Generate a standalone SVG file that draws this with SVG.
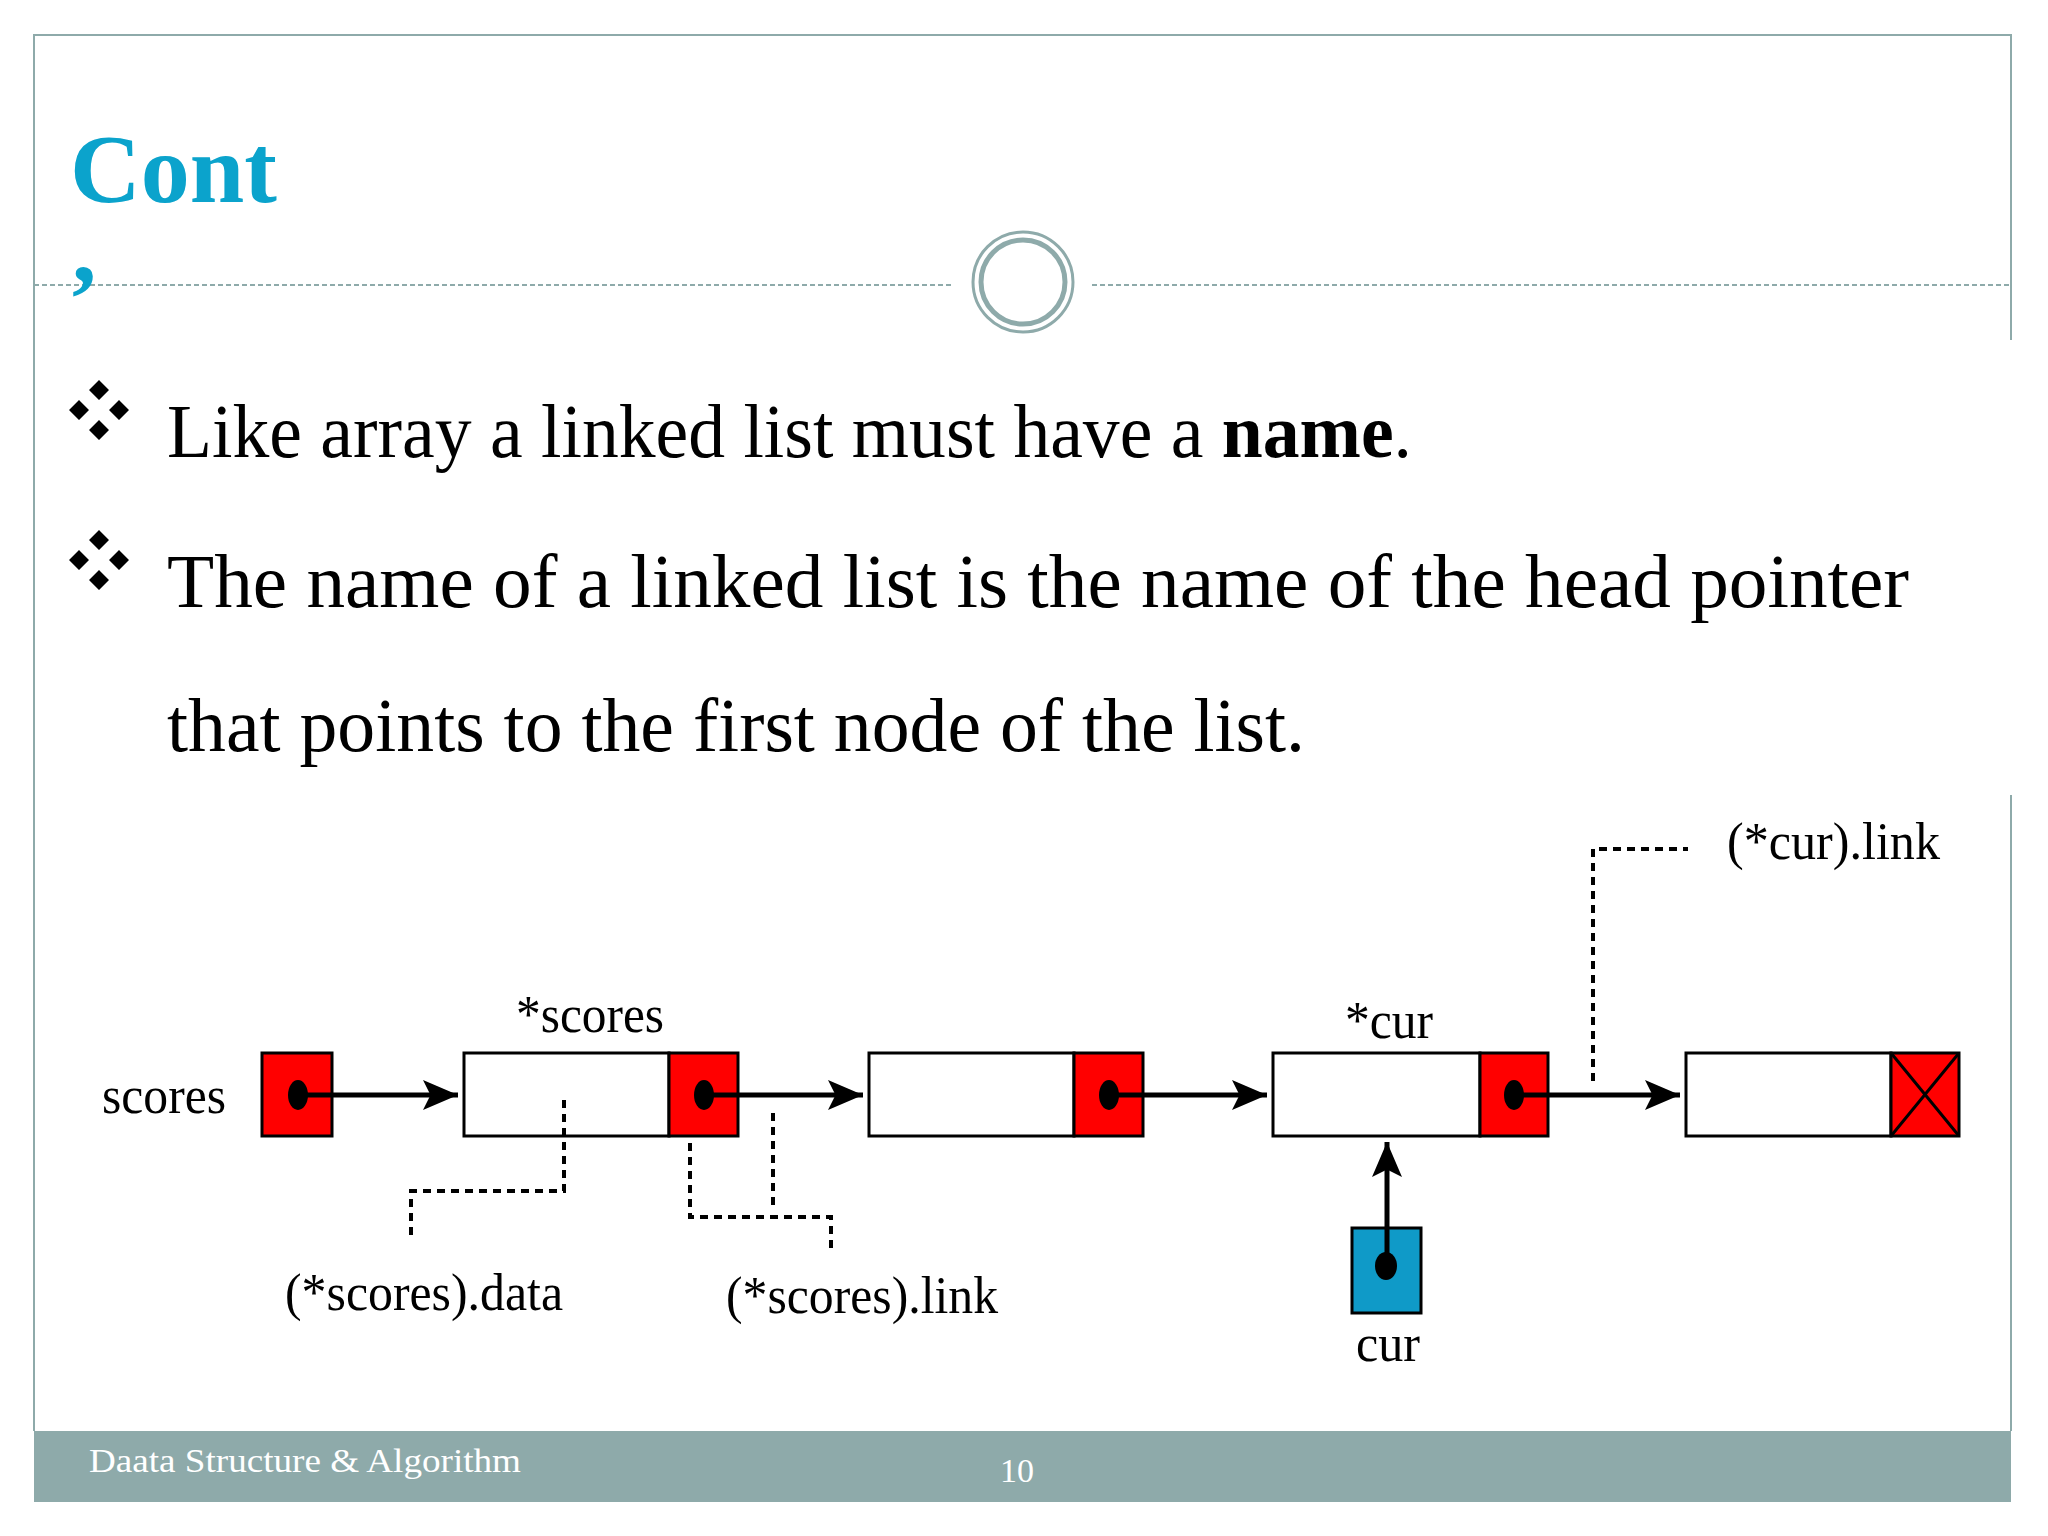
<svg xmlns="http://www.w3.org/2000/svg" width="2048" height="1536" viewBox="0 0 2048 1536">
<defs>
<style>
.s{font-family:"Liberation Serif","Times New Roman",serif;fill:#000}
.b{font-size:76px}
.l{font-size:52px}
.red{fill:#f00;stroke:#000;stroke-width:3}
.wh{fill:#fff;stroke:#000;stroke-width:3}
.ar{stroke:#000;stroke-width:5;fill:none;marker-end:url(#ah)}
.dl{stroke:#000;stroke-width:4;fill:none;stroke-dasharray:8 6}
</style>
<marker id="ah" markerWidth="8" markerHeight="8" refX="7" refY="4" orient="auto" markerUnits="strokeWidth"><path d="M0,1 L7,4 L0,7 L1.5,4 Z" fill="#000"/></marker>
<g id="bul"><path d="M0,-20 L10,-10 L0,0 L-10,-10Z M20,0 L30,10 L20,20 L10,10Z M-20,0 L-10,10 L-20,20 L-30,10Z M0,20 L10,30 L0,40 L-10,30Z" fill="#000"/></g>
</defs>
<rect width="2048" height="1536" fill="#fff"/>
<g id="frame">
<path d="M34,1431 V35 H2011 V340 M2011,795 V1431" fill="none" stroke="#8eaaaa" stroke-width="2"/>
<rect x="34" y="1431" width="1977" height="71" fill="#8eaaaa"/>
<line x1="34" y1="285" x2="953" y2="285" stroke="#8eaaaa" stroke-width="2" stroke-dasharray="5 3"/>
<line x1="1092" y1="285" x2="2011" y2="285" stroke="#8eaaaa" stroke-width="2" stroke-dasharray="5 3"/>
<circle cx="1023" cy="282" r="50" fill="#fff" stroke="#8eaaaa" stroke-width="3"/>
<circle cx="1023" cy="282" r="42" fill="none" stroke="#8eaaaa" stroke-width="5"/>
<text x="70" y="202" font-family="Liberation Serif,serif" font-weight="bold" font-size="98" fill="#0ba3cc">Cont</text>
<text x="72" y="281" font-family="Liberation Serif,serif" font-weight="bold" font-size="98" fill="#0ba3cc">,</text>
<text x="89" y="1472" font-family="Liberation Serif,serif" font-size="34" fill="#fff" textLength="432" lengthAdjust="spacingAndGlyphs">Daata Structure &amp; Algorithm</text>
<text x="1000" y="1482" font-family="Liberation Serif,serif" font-size="34" fill="#fff">10</text>
</g>
<g id="text">
<use href="#bul" x="99" y="400"/>
<use href="#bul" x="99" y="550"/>
<text class="s b" x="167" y="457" textLength="1245" lengthAdjust="spacingAndGlyphs">Like array a linked list must have a <tspan font-weight="bold">name</tspan>.</text>
<text class="s b" x="167" y="607" textLength="1742" lengthAdjust="spacingAndGlyphs">The name of a linked list is the name of the head pointer</text>
<text class="s b" x="167" y="751" textLength="1138" lengthAdjust="spacingAndGlyphs">that points to the first node of the list.</text>
</g>
<g id="scores">
<text class="s l" x="102" y="1113" textLength="124" lengthAdjust="spacingAndGlyphs">scores</text>
<rect class="red" x="262" y="1053" width="70" height="83"/>
<ellipse cx="298" cy="1095" rx="10" ry="15"/>
</g>
<g id="node1">
<rect class="wh" x="464" y="1053" width="205" height="83"/>
<rect class="red" x="669" y="1053" width="69" height="83"/>
<ellipse cx="704" cy="1095" rx="10" ry="15"/>
<text class="s l" x="516" y="1032" textLength="148" lengthAdjust="spacingAndGlyphs">*scores</text>
</g>
<g id="node2">
<rect class="wh" x="869" y="1053" width="205" height="83"/>
<rect class="red" x="1074" y="1053" width="69" height="83"/>
<ellipse cx="1109" cy="1095" rx="10" ry="15"/>
</g>
<g id="node3">
<rect class="wh" x="1273" y="1053" width="207" height="83"/>
<rect class="red" x="1480" y="1053" width="68" height="83"/>
<ellipse cx="1514" cy="1095" rx="10" ry="15"/>
<text class="s l" x="1345" y="1038" textLength="88" lengthAdjust="spacingAndGlyphs">*cur</text>
</g>
<g id="node4">
<rect class="wh" x="1686" y="1053" width="205" height="83"/>
<rect class="red" x="1891" y="1053" width="68" height="83"/>
<path d="M1891,1053 L1959,1136 M1959,1053 L1891,1136" stroke="#000" stroke-width="3"/>
</g>
<g id="cur">
<rect x="1352" y="1228" width="69" height="85" fill="#0f9ac8" stroke="#000" stroke-width="3"/>
<ellipse cx="1386" cy="1266" rx="11" ry="14"/>
<text class="s l" x="1356" y="1361" textLength="64" lengthAdjust="spacingAndGlyphs">cur</text>
</g>
<g id="labels">
<text class="s l" x="285" y="1310" textLength="278" lengthAdjust="spacingAndGlyphs">(*scores).data</text>
<text class="s l" x="726" y="1313" textLength="272" lengthAdjust="spacingAndGlyphs">(*scores).link</text>
<text class="s l" x="1727" y="859" textLength="213" lengthAdjust="spacingAndGlyphs">(*cur).link</text>
</g>
<g id="connectors">
<line class="ar" x1="300" y1="1095" x2="458" y2="1095"/>
<line class="ar" x1="706" y1="1095" x2="863" y2="1095"/>
<line class="ar" x1="1111" y1="1095" x2="1267" y2="1095"/>
<line class="ar" x1="1516" y1="1095" x2="1680" y2="1095"/>
<line class="ar" x1="1387" y1="1264" x2="1387" y2="1142"/>
<path class="dl" d="M564,1100 V1191 H411 V1241"/>
<path class="dl" d="M690,1143 V1217 H831 V1254"/>
<path class="dl" d="M773,1113 V1208"/>
<path class="dl" d="M1593,1081 V849 H1688"/>
</g>
</svg>
